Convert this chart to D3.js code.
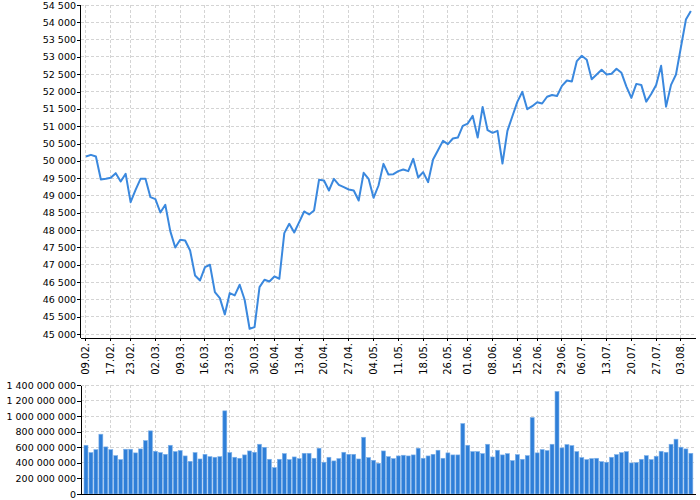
<!DOCTYPE html>
<html>
<head>
<meta charset="utf-8">
<script src="https://cdn.jsdelivr.net/npm/d3@7"></script>
<style>
    html, body { margin: 0; padding: 0; background: #fff; }
    svg { display: block; }
    .grid line { stroke: #d4d4d4; stroke-dasharray: 3,2; shape-rendering: crispEdges; }
    .axis path, .axis line { stroke: #000; shape-rendering: crispEdges; }
    .axis text { fill: #000; }
</style>
</head>
<body>
<svg width="700" height="500"></svg>
<script>
// trading days shown on the chart (dd.mm)
var dates = [
    '09.02', '10.02', '11.02', '12.02', '13.02',
    '17.02', '18.02', '19.02', '20.02',
    '23.02', '24.02', '25.02', '26.02', '27.02',
    '02.03', '03.03', '04.03', '05.03', '06.03',
    '09.03', '10.03', '11.03', '12.03', '13.03',
    '16.03', '17.03', '18.03', '19.03', '20.03',
    '23.03', '24.03', '25.03', '26.03', '27.03',
    '30.03', '31.03', '01.04', '02.04',
    '06.04', '07.04', '08.04', '09.04', '10.04',
    '13.04', '14.04', '15.04', '16.04', '17.04',
    '20.04', '21.04', '22.04', '23.04', '24.04',
    '27.04', '28.04', '29.04', '30.04', '01.05',
    '04.05', '05.05', '06.05', '07.05', '08.05',
    '11.05', '12.05', '13.05', '14.05', '15.05',
    '18.05', '19.05', '20.05', '21.05', '22.05',
    '26.05', '27.05', '28.05', '29.05',
    '01.06', '02.06', '03.06', '04.06', '05.06',
    '08.06', '09.06', '10.06', '11.06', '12.06',
    '15.06', '16.06', '17.06', '19.06',
    '22.06', '23.06', '24.06', '25.06', '26.06',
    '29.06', '30.06', '01.07', '02.07',
    '06.07', '07.07', '08.07', '09.07', '10.07',
    '13.07', '14.07', '15.07', '16.07', '17.07',
    '20.07', '21.07', '22.07', '23.07', '24.07',
    '27.07', '28.07', '29.07', '30.07', '31.07',
    '03.08', '04.08', '05.08'
];

// closing values, one per trading day
var closeValues = [
    50125, 50173, 50125, 49461, 49480,
    49509, 49644, 49404, 49625,
    48807, 49163, 49480, 49480, 48951,
    48894, 48509, 48730, 47970, 47499,
    47720, 47701, 47412, 46691, 46546,
    46931, 46999, 46210, 46037, 45566,
    46181, 46114, 46422, 45988, 45152,
    45200, 46354, 46566, 46518,
    46662, 46595, 47913, 48182, 47932,
    48230, 48538, 48451, 48567, 49452,
    49432, 49144, 49480, 49307, 49240,
    49173, 49144, 48855, 49654, 49480,
    48932, 49288, 49913, 49606, 49615,
    49702, 49750, 49702, 50058, 49519,
    49673, 49384, 50038, 50308, 50577,
    50481, 50645, 50673, 51010,
    51077, 51299, 50673, 51558, 50885,
    50808, 50866, 49923, 50866, 51289,
    51703, 51991, 51491, 51578,
    51693, 51655, 51850, 51903, 51874,
    52164, 52319, 52290, 52880,
    53035, 52919, 52358, 52493, 52629,
    52493, 52513, 52658, 52542, 52145,
    51816, 52222, 52193, 51710, 51932,
    52193, 52745, 51565, 52193, 52493,
    53286, 54079, 54330
];

// traded volume, millions
var volumeMillions = [
    626, 532, 570, 768, 605,
    570, 493, 442, 575,
    575, 528, 579, 686, 811,
    549, 532, 510, 626, 545,
    558, 489, 420, 532, 450,
    510, 480, 472, 480, 1068,
    532, 472, 459, 502, 553,
    536, 639, 600, 446,
    339, 446, 519, 442, 476,
    455, 523, 523, 459, 588,
    408, 472, 425, 455, 536,
    510, 510, 450, 729, 468,
    433, 395, 553, 480, 455,
    489, 498, 489, 502, 588,
    459, 489, 510, 562, 459,
    528, 502, 502, 905,
    626, 545, 545, 519, 639,
    476, 562, 502, 519, 429,
    506, 446, 493, 982,
    528, 571, 558, 639, 1317,
    592, 635, 622, 545,
    468, 442, 455, 459, 416,
    408, 472, 506, 532, 545,
    399, 403, 446, 493, 442,
    485, 549, 536, 639, 704,
    601, 579, 523
];

// labelled days on the x axis
var tickDates = [
    '09.02', '17.02', '23.02', '02.03', '09.03', '16.03', '23.03', '30.03',
    '06.04', '13.04', '20.04', '27.04', '04.05', '11.05', '18.05', '26.05',
    '01.06', '08.06', '15.06', '22.06', '29.06', '06.07', '13.07', '20.07',
    '27.07', '03.08'
];

var priceTicks = [
    45000, 45500, 46000, 46500, 47000, 47500, 48000, 48500, 49000, 49500,
    50000, 50500, 51000, 51500, 52000, 52500, 53000, 53500, 54000, 54500
];

var volumeTicks = [0, 200, 400, 600, 800, 1000, 1200, 1400];

(function (d3) {
    'use strict';

    var PLOT_LEFT    = 80.5,
        PLOT_RIGHT   = 695,
        PRICE_TOP    = 5,
        PRICE_BOTTOM = 334,
        PRICE_AXIS_Y = 338,
        VOL_TOP      = 385,
        VOL_BOTTOM   = 494,
        FONT         = '"DejaVu Sans", sans-serif',
        LINE_COLOR   = '#3a88de',
        BAR_COLOR    = '#2f7fd8',
        BAR_EDGE     = '#7fb2ea';

    var locale = d3.formatLocale({decimal: ',', thousands: ' ', grouping: [3], currency: ['', '']}),
        fmt    = locale.format(',d');

    var svg = d3.select('svg');

    var x = d3.scaleBand()
        .domain(dates)
        .range([PLOT_LEFT, PLOT_RIGHT])
        .paddingInner(0.2)
        .paddingOuter(0.57)
        .align(0.62);
    var half = x.bandwidth() / 2;

    var yPrice = d3.scaleLinear().domain([45000, 54500]).range([PRICE_BOTTOM, PRICE_TOP]);
    var yVol = d3.scaleLinear().domain([0, 1400]).range([VOL_BOTTOM, VOL_TOP]);

    /**
     * dashed grid for one panel
     */
    function drawGrid(yScale, ticks, top, bottom) {
        var g = svg.append('g').attr('class', 'grid');
        g.selectAll('line.h').data(ticks).enter().append('line')
            .attr('class', 'h')
            .attr('x1', PLOT_LEFT).attr('x2', PLOT_RIGHT)
            .attr('y1', function (d) { return yScale(d); })
            .attr('y2', function (d) { return yScale(d); });
        g.selectAll('line.v').data(tickDates).enter().append('line')
            .attr('class', 'v')
            .attr('x1', function (d) { return x(d) + half; })
            .attr('x2', function (d) { return x(d) + half; })
            .attr('y1', top).attr('y2', bottom);
    }

    drawGrid(yPrice, priceTicks, PRICE_TOP, PRICE_AXIS_Y);
    drawGrid(yVol, volumeTicks, VOL_TOP, VOL_BOTTOM);

    // price line
    var line = d3.line()
        .x(function (d, i) { return x(dates[i]) + half; })
        .y(function (d) { return yPrice(d); });

    svg.append('path')
        .datum(closeValues)
        .attr('d', line)
        .attr('fill', 'none')
        .attr('stroke', LINE_COLOR)
        .attr('stroke-width', 2)
        .attr('stroke-linejoin', 'round');

    // volume bars
    svg.append('g').selectAll('rect')
        .data(volumeMillions)
        .enter().append('rect')
        .attr('x', function (d, i) { return x(dates[i]); })
        .attr('width', x.bandwidth())
        .attr('y', function (d) { return yVol(d); })
        .attr('height', function (d) { return VOL_BOTTOM - yVol(d); })
        .attr('fill', BAR_COLOR)
        .attr('stroke', BAR_EDGE)
        .attr('stroke-width', 0.6);

    // axes of the price panel
    var gy = svg.append('g')
        .attr('class', 'axis y-axis')
        .attr('transform', 'translate(' + PLOT_LEFT + ',0)')
        .call(d3.axisLeft(yPrice).tickValues(priceTicks).tickFormat(fmt)
            .tickSize(3.5).tickPadding(1).tickSizeOuter(0));
    gy.select('.domain').remove();
    gy.append('line')
        .attr('x1', 0).attr('x2', 0)
        .attr('y1', PRICE_TOP).attr('y2', PRICE_AXIS_Y);

    var gx = svg.append('g')
        .attr('class', 'axis')
        .attr('transform', 'translate(0,' + PRICE_AXIS_Y + ')')
        .call(d3.axisBottom(x).tickValues(tickDates)
            .tickFormat(function (d) { return d + '.'; })
            .tickSize(3).tickSizeOuter(0));
    gx.selectAll('text')
        .attr('transform', 'rotate(-90)')
        .attr('x', -5)
        .attr('y', 0)
        .attr('dy', '0.35em')
        .style('text-anchor', 'end');

    // axes of the volume panel
    svg.append('g')
        .attr('class', 'axis y-axis')
        .attr('transform', 'translate(' + PLOT_LEFT + ',0)')
        .call(d3.axisLeft(yVol).tickValues(volumeTicks)
            .tickFormat(function (d) { return fmt(d * 1e6); })
            .tickSize(3.5).tickPadding(1).tickSizeOuter(0));

    svg.append('g')
        .attr('class', 'axis')
        .attr('transform', 'translate(0,' + VOL_BOTTOM + ')')
        .call(d3.axisBottom(x).tickValues([]).tickSizeOuter(0));

    svg.selectAll('.axis')
        .attr('font-family', FONT)
        .attr('font-size', 10);
    svg.selectAll('.y-axis')
        .attr('font-size', 9.5);

})(this.d3);
</script>
</body>
</html>
